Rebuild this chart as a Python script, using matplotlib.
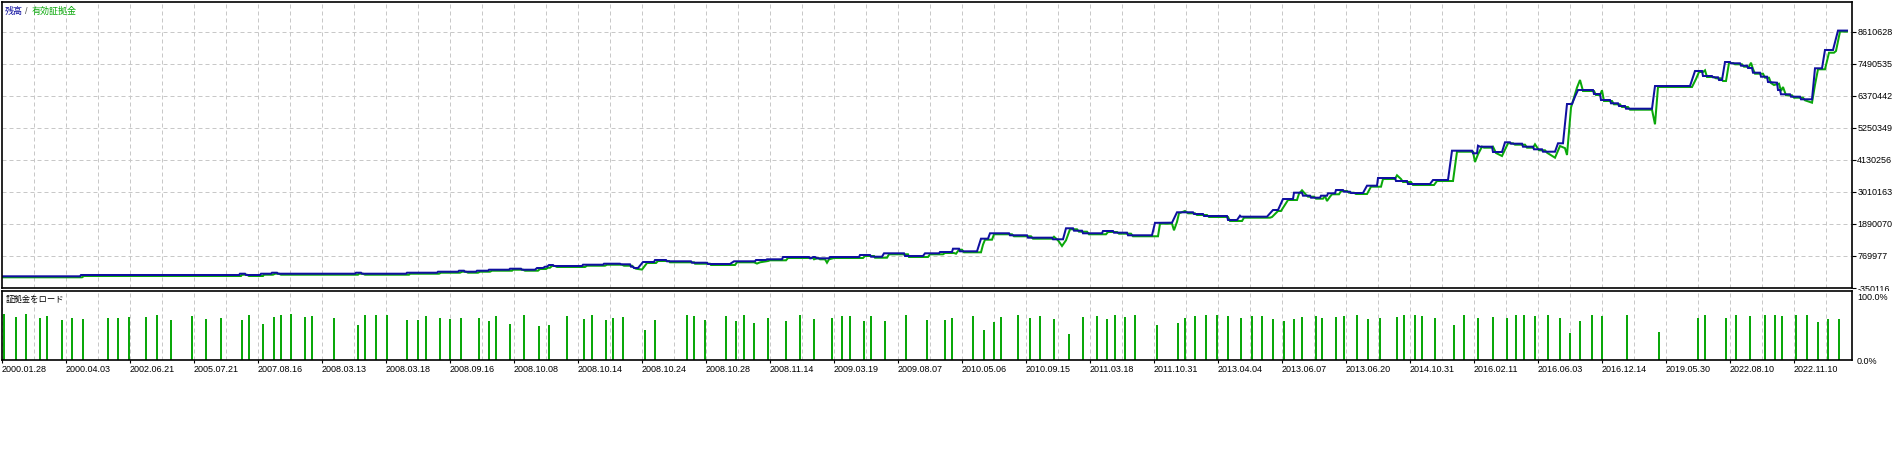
import matplotlib.pyplot as plt
from matplotlib.transforms import Bbox, TransformedBbox, offset_copy

plt.rcParams['font.family'] = ['Liberation Sans', 'Noto Sans CJK JP']

W, H = 1898, 458

# balance curve: deal number -> balance (thousands)
balance_deal = [0, 78, 79, 237, 238, 243, 244, 258, 259, 269, 270, 275, 276, 353, 354, 359,
                360, 404, 405, 435, 436, 456, 457, 462, 463, 474, 475, 486, 487, 507, 508, 519,
                520, 533, 535, 541, 543, 545, 547, 551, 552, 580, 581, 601, 602, 618, 619, 628,
                629, 631, 632, 636, 641, 652, 653, 664, 665, 689, 690, 705, 706, 728, 732, 753,
                754, 764, 765, 780, 781, 807, 808, 809, 811, 813, 815, 827, 828, 857, 858, 868,
                869, 880, 882, 902, 903, 921, 923, 937, 938, 950, 951, 957, 958, 975, 979, 986,
                988, 1007, 1008, 1025, 1026, 1050, 1051, 1061, 1064, 1071, 1072, 1080, 1081, 1100,
                1101, 1111, 1112, 1125, 1126, 1150, 1153, 1170, 1175, 1191, 1192, 1201, 1202, 1225,
                1226, 1235, 1238, 1239, 1265, 1271, 1276, 1281, 1291, 1292, 1300, 1301, 1308, 1309,
                1318, 1319, 1325, 1326, 1333, 1334, 1341, 1342, 1348, 1349, 1361, 1365, 1375, 1376,
                1393, 1394, 1405, 1406, 1428, 1431, 1446, 1450, 1470, 1471, 1475, 1476, 1478, 1490,
                1491, 1500, 1503, 1508, 1509, 1520, 1521, 1531, 1532, 1540, 1541, 1553, 1556, 1561,
                1565, 1570, 1573, 1576, 1591, 1592, 1598, 1599, 1608, 1609, 1616, 1617, 1623, 1624,
                1650, 1653, 1688, 1693, 1700, 1701, 1710, 1711, 1716, 1717, 1720, 1723, 1728, 1729,
                1738, 1739, 1745, 1746, 1750, 1751, 1758, 1759, 1765, 1766, 1775, 1776, 1778, 1779,
                1788, 1789, 1798, 1799, 1810, 1813, 1820, 1823, 1831, 1836, 1845]
balance_k = [59, 59, 105, 105, 150, 150, 105, 105, 150, 150, 185, 185, 150, 150, 185, 185,
             150, 150, 185, 185, 220, 220, 255, 255, 220, 220, 255, 255, 290, 290, 325, 325,
             290, 290, 350, 350, 395, 395, 455, 455, 420, 420, 465, 465, 500, 500, 479, 479,
             395, 395, 350, 350, 560, 560, 630, 630, 584, 584, 535, 535, 490, 490, 584, 584,
             630, 630, 654, 654, 735, 735, 689, 689, 735, 735, 689, 689, 735, 735, 805, 805,
             745, 745, 864, 864, 770, 770, 864, 864, 910, 910, 1025, 1025, 934, 934, 1376, 1376,
             1565, 1565, 1495, 1495, 1411, 1411, 1355, 1355, 1740, 1740, 1656, 1656, 1565, 1565,
             1645, 1645, 1586, 1586, 1495, 1495, 1930, 1936, 2300, 2300, 2240, 2240, 2170, 2170,
             2030, 2030, 2181, 2146, 2146, 2380, 2380, 2765, 2765, 2986, 2986, 2881, 2881, 2811,
             2811, 2881, 2881, 2965, 2965, 3080, 3080, 3020, 3020, 2975, 2975, 3231, 3231, 3500,
             3500, 3395, 3395, 3290, 3290, 3430, 3430, 4456, 4456, 4365, 4365, 4631, 4596, 4596,
             4410, 4410, 4750, 4750, 4701, 4701, 4596, 4596, 4505, 4505, 4421, 4421, 4715, 4715,
             6090, 6090, 6346, 6580, 6580, 6440, 6440, 6230, 6230, 6115, 6115, 6020, 6020, 5926,
             5926, 6720, 6720, 7246, 7246, 7070, 7070, 7025, 7025, 6930, 6930, 7560, 7560, 7515,
             7515, 7431, 7431, 7350, 7350, 7186, 7186, 7046, 7046, 6860, 6836, 6580, 6580, 6430,
             6430, 6346, 6346, 6255, 6255, 7340, 7340, 7981, 7981, 8660, 8660]

# equity curve: deal number -> equity (thousands)
equity_deal = [0, 80, 82, 239, 240, 245, 247, 261, 262, 271, 273, 277, 279, 356, 357, 361,
               363, 407, 408, 437, 439, 458, 460, 464, 466, 476, 478, 488, 490, 510, 511, 521,
               523, 536, 538, 544, 546, 548, 550, 553, 555, 583, 585, 603, 605, 620, 622, 630,
               632, 634, 640, 645, 654, 656, 667, 668, 692, 693, 708, 709, 733, 735, 752, 755,
               758, 766, 768, 784, 786, 811, 812, 816, 818, 823, 825, 827, 832, 861, 863, 872,
               873, 885, 887, 906, 907, 926, 928, 941, 943, 952, 954, 957, 960, 962, 979, 981,
               983, 990, 992, 1010, 1012, 1029, 1031, 1050, 1052, 1056, 1060, 1064, 1068, 1075,
               1077, 1085, 1087, 1104, 1106, 1115, 1117, 1129, 1131, 1156, 1158, 1170, 1172, 1175,
               1177, 1183, 1186, 1193, 1195, 1205, 1207, 1226, 1228, 1240, 1242, 1268, 1270, 1276,
               1279, 1283, 1286, 1295, 1297, 1300, 1303, 1306, 1312, 1314, 1321, 1323, 1325, 1328,
               1330, 1337, 1339, 1345, 1347, 1352, 1354, 1365, 1369, 1379, 1381, 1393, 1395, 1399,
               1401, 1409, 1411, 1432, 1435, 1451, 1455, 1471, 1473, 1476, 1480, 1482, 1489, 1491,
               1494, 1500, 1506, 1511, 1513, 1523, 1525, 1531, 1533, 1537, 1543, 1545, 1553, 1558,
               1563, 1565, 1569, 1575, 1578, 1581, 1592, 1594, 1598, 1600, 1602, 1610, 1612, 1618,
               1620, 1626, 1628, 1650, 1653, 1656, 1690, 1694, 1697, 1701, 1703, 1705, 1712, 1714,
               1719, 1721, 1724, 1727, 1731, 1733, 1740, 1742, 1747, 1749, 1751, 1753, 1761, 1763,
               1767, 1769, 1772, 1777, 1779, 1781, 1784, 1790, 1792, 1801, 1803, 1810, 1813, 1816,
               1823, 1827, 1832, 1834, 1838, 1845]
equity_k = [59, 59, 105, 105, 150, 150, 105, 105, 150, 150, 185, 185, 150, 150, 185, 185,
            150, 150, 185, 185, 220, 220, 255, 255, 220, 220, 255, 255, 290, 290, 325, 325,
            290, 290, 350, 350, 395, 395, 455, 455, 420, 420, 465, 465, 500, 500, 465, 465,
            395, 360, 330, 560, 560, 630, 630, 584, 584, 535, 535, 490, 490, 584, 584, 540,
            584, 630, 654, 654, 735, 735, 689, 735, 689, 689, 570, 689, 735, 735, 805, 805,
            745, 745, 864, 864, 770, 770, 864, 864, 910, 910, 885, 1025, 1025, 934, 934, 1200,
            1376, 1376, 1565, 1565, 1495, 1495, 1411, 1411, 1480, 1355, 1155, 1355, 1740, 1740,
            1656, 1656, 1565, 1565, 1645, 1645, 1586, 1586, 1495, 1495, 1936, 1936, 1705, 2000,
            2300, 2380, 2300, 2300, 2240, 2240, 2170, 2170, 2030, 2030, 2146, 2146, 2170, 2380,
            2380, 2600, 2765, 2765, 2986, 3105, 2986, 2881, 2881, 2811, 2811, 2905, 2730, 2881,
            2965, 2965, 3080, 3080, 3020, 3020, 2975, 2975, 3231, 3231, 3500, 3500, 3630, 3500,
            3395, 3395, 3290, 3290, 3430, 3430, 4456, 4456, 4095, 4365, 4631, 4596, 4596, 4631,
            4410, 4305, 4750, 4750, 4701, 4701, 4596, 4596, 4715, 4505, 4505, 4421, 4246, 4655,
            4580, 4340, 6000, 6700, 6966, 6580, 6580, 6440, 6440, 6605, 6230, 6230, 6115, 6115,
            6020, 6020, 5926, 5926, 5415, 6720, 6720, 7000, 7246, 7246, 7305, 7070, 7070, 7025,
            7025, 6930, 6930, 7560, 7560, 7515, 7515, 7431, 7431, 7571, 7350, 7186, 7186, 7046,
            7046, 6860, 6790, 6836, 6580, 6720, 6430, 6430, 6346, 6346, 6255, 6171, 6800, 7340,
            7340, 7921, 7921, 7981, 8660, 8660]

# margin load bars: deal number -> percent
load_deal = [2, 14, 24, 38, 45, 60, 70, 81, 106, 116, 127, 144, 155, 169, 190, 204, 219, 240,
             247, 261, 272, 279, 289, 303, 310, 332, 356, 363, 374, 385, 405, 416, 424, 438,
             448, 459, 477, 487, 494, 508, 522, 537, 547, 565, 582, 590, 604, 611, 621, 643,
             653, 685, 692, 703, 724, 734, 742, 752, 766, 784, 798, 812, 830, 840, 848, 862,
             869, 883, 904, 925, 943, 950, 971, 982, 992, 999, 1016, 1028, 1038, 1052, 1067,
             1081, 1095, 1105, 1113, 1123, 1133, 1155, 1176, 1183, 1193, 1204, 1215, 1226, 1239,
             1250, 1260, 1271, 1282, 1292, 1300, 1314, 1320, 1334, 1342, 1355, 1366, 1378, 1395,
             1402, 1413, 1420, 1433, 1452, 1462, 1476, 1491, 1505, 1514, 1522, 1533, 1546, 1558,
             1568, 1578, 1590, 1600, 1625, 1657, 1696, 1703, 1724, 1734, 1748, 1763, 1773, 1780,
             1794, 1805, 1816, 1826, 1837]
load_pct = [72.7, 67.9, 72.7, 66.4, 69.5, 63.2, 66.4, 64.8, 66.4, 66.4, 67.9, 67.9, 71.1, 63.2,
            69.5, 64.8, 66.4, 63.2, 71.1, 56.9, 67.9, 71.1, 72.7, 67.9, 69.5, 66.4, 55.3, 71.1,
            71.1, 71.1, 63.2, 63.2, 69.5, 66.4, 64.8, 66.4, 66.4, 61.6, 69.5, 56.9, 71.1, 53.7,
            55.3, 69.5, 64.8, 71.1, 63.2, 66.4, 67.9, 47.4, 63.2, 71.1, 69.5, 63.2, 69.5, 61.6,
            71.1, 58.5, 66.4, 61.6, 71.1, 64.8, 66.4, 69.5, 69.5, 61.6, 69.5, 61.6, 71.1, 63.2,
            63.2, 66.4, 69.5, 47.4, 60.0, 67.9, 71.1, 66.4, 69.5, 64.8, 41.1, 67.9, 69.5, 64.8,
            71.1, 67.9, 71.1, 55.3, 58.5, 66.4, 69.5, 71.1, 71.1, 69.5, 66.4, 69.5, 69.5, 64.8,
            61.6, 64.8, 67.9, 69.5, 66.4, 67.9, 69.5, 71.1, 64.8, 66.4, 67.9, 71.1, 71.1, 69.5,
            66.4, 55.3, 71.1, 66.4, 67.9, 66.4, 71.1, 71.1, 69.5, 71.1, 66.4, 42.7, 61.6, 71.1,
            69.5, 71.1, 44.2, 66.4, 71.1, 66.4, 71.1, 69.5, 71.1, 71.1, 69.5, 71.1, 71.1, 60.0,
            64.8, 64.8]

y_levels = [-350116, 769977, 1890070, 3010163, 4130256, 5250349, 6370442, 7490535, 8610628]
y_labels = ['-350116', '769977', '1890070', '3010163', '4130256', '5250349', '6370442',
            '7490535', '8610628']

date_labels = ['2000.01.28', '2000.04.03', '2002.06.21', '2005.07.21', '2007.08.16',
               '2008.03.13', '2008.03.18', '2008.09.16', '2008.10.08', '2008.10.14',
               '2008.10.24', '2008.10.28', '2008.11.14', '2009.03.19', '2009.08.07',
               '2010.05.06', '2010.09.15', '2011.03.18', '2011.10.31', '2013.04.04',
               '2013.06.07', '2013.06.20', '2014.10.31', '2016.02.11', '2016.06.03',
               '2016.12.14', '2019.05.30', '2022.08.10', '2022.11.10']

blue = '#1010a0'
green = '#0aa80a'
grid_kw = dict(color='#c8c8c8', linewidth=0.72, linestyle=(0, (4, 3)))

fig = plt.figure(figsize=(W / 100, H / 100), dpi=100)
fig.patch.set_facecolor('white')

# main panel: balance / equity
ax = fig.add_axes([2 / W, 170 / H, 1850 / W, 286 / H])
shift = offset_copy(ax.transData, fig=fig, x=0, y=-1, units='dots')
ax.plot(equity_deal, [v * 1000 for v in equity_k], color=green, lw=1.45,
        transform=shift, solid_joinstyle='miter')
ax.plot(balance_deal, [v * 1000 for v in balance_k], color=blue, lw=1.45,
        solid_joinstyle='miter')
ax.set_xlim(0, 1850)
ax.set_ylim(-350116, 9660715)
ax.set_xticks(range(32, 1850, 32))
ax.tick_params(axis='x', length=0, labelbottom=False)
ax.yaxis.tick_right()
ax.set_yticks(y_levels)
ax.set_yticklabels(y_labels)
ax.tick_params(axis='y', direction='out', length=3, width=0.8, pad=0.8, labelsize=6.5)
ax.grid(True, **grid_kw)
ax.set_axisbelow(True)

# cut the lowest label where the lower panel starts
clip = TransformedBbox(Bbox([[0, 167 / H], [1, 1]]), fig.transFigure)
for t in ax.yaxis.get_major_ticks():
    t.label2.set_clip_box(clip)
    t.label2.set_clip_on(True)

# lower panel: margin load
ax2 = fig.add_axes([2 / W, 98 / H, 1850 / W, 69 / H])
ax2.bar(load_deal, load_pct, width=2, color=green, linewidth=0)
ax2.set_xlim(0, 1850)
ax2.set_ylim(0, 109)
ax2.set_xticks(range(0, 1850, 64))
ax2.set_xticklabels(date_labels, ha='left')
ax2.set_xticks(range(32, 1850, 64), minor=True)
ax2.tick_params(axis='x', which='major', length=2, width=0.8, pad=1.5, labelsize=6.5)
ax2.tick_params(axis='x', which='minor', length=0)
ax2.yaxis.tick_right()
ax2.set_yticks([0, 100])
ax2.set_yticklabels(['0.0%', '100.0%'])
ax2.tick_params(axis='y', length=0, pad=3.6, labelsize=6.5)
ax2.grid(True, which='both', axis='x', **grid_kw)
ax2.set_axisbelow(True)

for a in (ax, ax2):
    for s in a.spines.values():
        s.set_linewidth(1.2)
        s.set_color('black')

# captions
ty = 1 - 11.5 / H
fig.text(5 / W, ty, '残高', color=blue, fontsize=6.5, va='center')
fig.text(25 / W, ty, '/', color='#555555', fontsize=6.5, va='center')
fig.text(32 / W, ty, '有効証拠金', color=green, fontsize=6.5, va='center')
fig.text(6 / W, 1 - 300 / H, '証拠金をロード', color='black', fontsize=6, va='center')

fig.savefig('out.png', dpi=100)
